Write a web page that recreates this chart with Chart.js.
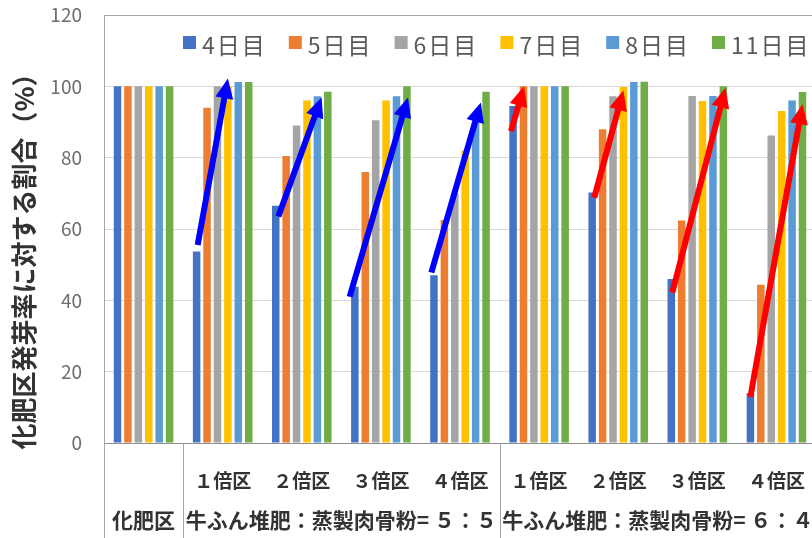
<!DOCTYPE html>
<html lang="ja">
<head>
<meta charset="UTF-8">
<title>化肥区発芽率に対する割合</title>
<script src="https://cdn.jsdelivr.net/npm/chart.js"></script>
<style>
  html, body { margin: 0; padding: 0; background: #fff; overflow: hidden; }
  #chart { display: block; }
</style>
</head>
<body>
<canvas id="chart" width="830" height="538"></canvas>
<script>
// categories (first row of the axis table) and their groups (second row)
const categories = ['', '１倍区', '２倍区', '３倍区', '４倍区', '１倍区', '２倍区', '３倍区', '４倍区']
const groupLabels = ['化肥区', '牛ふん堆肥：蒸製肉骨粉= ５：５', '牛ふん堆肥：蒸製肉骨粉= ６：４']
const groupSizes = [1, 4, 4]

// germination rate relative to the chemical fertilizer plot (%)
const seriesNames = ['4日目', '5日目', '6日目', '7日目', '8日目', '11日目']
const day4 = [100, 53.7, 66.5, 43.8, 47, 94.5, 70.2, 46, 14]
const day5 = [100, 94, 80.5, 76, 62.5, 100, 88, 62.4, 44.4]
const day6 = [100, 100, 89, 90.5, 70, 100, 97.2, 97.3, 86.2]
const day7 = [100, 100, 96, 96, 82, 100, 99.8, 95.9, 93.1]
const day8 = [100, 101.2, 97.2, 97.2, 90, 100, 101.2, 97.3, 96]
const day11 = [100, 101.2, 98.5, 100, 98.5, 100, 101.3, 100, 98.4]
const seriesColors = ['#4472c4', '#ed7d31', '#a5a5a5', '#ffc000', '#5b9bd5', '#70ad47']

const yTicks = [0, 20, 40, 60, 80, 100, 120]

// trend arrows: category, bar slot (0 = 4日目) and value at both ends
const arrowCategory = [1, 2, 3, 4, 5, 6, 7, 8]
const arrowFromBar = [0.1, 0.25, -0.5, -0.25, -0.2, 0.2, 0.1, 0]
const arrowFromValue = [55.5, 63.5, 41, 47.8, 87.4, 68.8, 42.2, 12.9]
const arrowToBar = [3, 4.4, 5.1, 4.5, 1.05, 3, 5.2, 5]
const arrowToValue = [102.2, 96.9, 96.9, 95.5, 100, 98.9, 99.6, 95]
const arrowColors = ['#0000ff', '#0000ff', '#0000ff', '#0000ff', '#ff0000', '#ff0000', '#ff0000', '#ff0000']

const FONT = "'Noto Sans CJK JP', 'Noto Sans', sans-serif"
Chart.defaults.font.family = FONT

const seriesData = [day4, day5, day6, day7, day8, day11]

function drawArrow(ctx, x1, y1, x2, y2, color) {
  const ang = Math.atan2(y2 - y1, x2 - x1)
  const head = 20
  const half = 9
  const c = Math.cos(ang)
  const s = Math.sin(ang)
  const bx = x2 - head * c
  const by = y2 - head * s
  ctx.save()
  ctx.strokeStyle = color
  ctx.fillStyle = color
  ctx.lineWidth = 6
  ctx.beginPath()
  ctx.moveTo(x1, y1)
  ctx.lineTo(bx + c, by + s)
  ctx.stroke()
  ctx.beginPath()
  ctx.moveTo(x2, y2)
  ctx.lineTo(bx + half * s, by - half * c)
  ctx.lineTo(bx - half * s, by + half * c)
  ctx.closePath()
  ctx.fill()
  ctx.restore()
}

const arrowPlugin = {
  id: 'arrows',
  afterDatasetsDraw(chart) {
    const ctx = chart.ctx
    const y = chart.scales.y
    const m0 = chart.getDatasetMeta(0).data
    const m1 = chart.getDatasetMeta(1).data
    arrowCategory.forEach((cat, i) => {
      const x0 = m0[cat].x
      const slot = m1[cat].x - x0
      drawArrow(ctx,
        x0 + arrowFromBar[i] * slot, y.getPixelForValue(arrowFromValue[i]),
        x0 + arrowToBar[i] * slot, y.getPixelForValue(arrowToValue[i]),
        arrowColors[i])
    })
  }
}

// one-row legend inside the plot area, top right
const legendPlugin = {
  id: 'rowLegend',
  afterDraw(chart) {
    const ctx = chart.ctx
    const left = 183
    const pitch = 105.8
    ctx.save()
    ctx.font = '23px ' + FONT
    ctx.textAlign = 'left'
    ctx.textBaseline = 'middle'
    ctx.letterSpacing = '2px'
    chart.data.datasets.forEach((ds, i) => {
      const bx = left + i * pitch
      ctx.fillStyle = ds.backgroundColor
      ctx.fillRect(bx, 36, 13, 13)
      ctx.fillStyle = '#595959'
      ctx.fillText(ds.label, bx + 19, 45)
    })
    ctx.restore()
  }
}

// group row and separators under the x axis, plus the y axis title
const tablePlugin = {
  id: 'table',
  afterDraw(chart) {
    const ctx = chart.ctx
    const x = chart.scales.x
    const area = chart.chartArea
    const catW = x.width / categories.length
    const top = area.bottom
    const bottom = chart.height
    ctx.save()
    ctx.strokeStyle = '#a6a6a6'
    ctx.lineWidth = 1
    let start = 0
    const edges = [x.left]
    groupSizes.forEach(n => {
      start += n
      edges.push(x.left + start * catW)
    })
    edges.forEach(ex => {
      ctx.beginPath()
      ctx.moveTo(Math.round(ex) + 0.5, top)
      ctx.lineTo(Math.round(ex) + 0.5, bottom)
      ctx.stroke()
    })
    ctx.fillStyle = '#333333'
    ctx.font = 'bold 21px ' + FONT
    ctx.textAlign = 'center'
    ctx.textBaseline = 'middle'
    groupLabels.forEach((label, i) => {
      const cx = (edges[i] + edges[i + 1]) / 2
      ctx.fillText(label, cx, 520)
    })

    ctx.translate(24, 255)
    ctx.rotate(-Math.PI / 2)
    ctx.fillStyle = '#333333'
    ctx.font = 'bold 26px ' + FONT
    ctx.fillText('化肥区発芽率に対する割合（%）', 0, 0)
    ctx.restore()
  }
}

new Chart(document.getElementById('chart'), {
  type: 'bar',
  data: {
    labels: categories,
    datasets: seriesNames.map((name, i) => ({
      label: name,
      data: seriesData[i],
      backgroundColor: seriesColors[i],
      borderWidth: 0,
      categoryPercentage: 0.79,
      barPercentage: 0.72
    }))
  },
  options: {
    responsive: false,
    animation: false,
    layout: { padding: { left: 0, right: 14, top: 15, bottom: 0 } },
    plugins: {
      tooltip: { enabled: false },
      legend: { display: false }
    },
    scales: {
      x: {
        grid: { display: false },
        border: { color: '#8c8c8c' },
        ticks: {
          color: '#333333',
          font: { size: 19, weight: 'bold', family: FONT },
          padding: 18,
          maxRotation: 0,
          autoSkip: false
        },
        afterFit(scale) {
          scale.height = 95
          scale.paddingLeft = 0
          scale.paddingRight = 0
        }
      },
      y: {
        min: 0,
        max: 120,
        afterBuildTicks(scale) { scale.ticks = yTicks.map(v => ({ value: v })) },
        grid: {
          drawTicks: false,
          color: ctx => (ctx.tick && ctx.tick.value === 120 ? '#a6a6a6' : '#d9d9d9')
        },
        border: { color: '#a6a6a6' },
        ticks: {
          color: '#6e6e6e',
          font: { size: 19, family: FONT },
          padding: 22
        },
        afterFit(scale) {
          scale.width = 104
          scale.paddingTop = 0
          scale.paddingBottom = 0
        }
      }
    }
  },
  plugins: [arrowPlugin, legendPlugin, tablePlugin]
})
</script>
</body>
</html>
